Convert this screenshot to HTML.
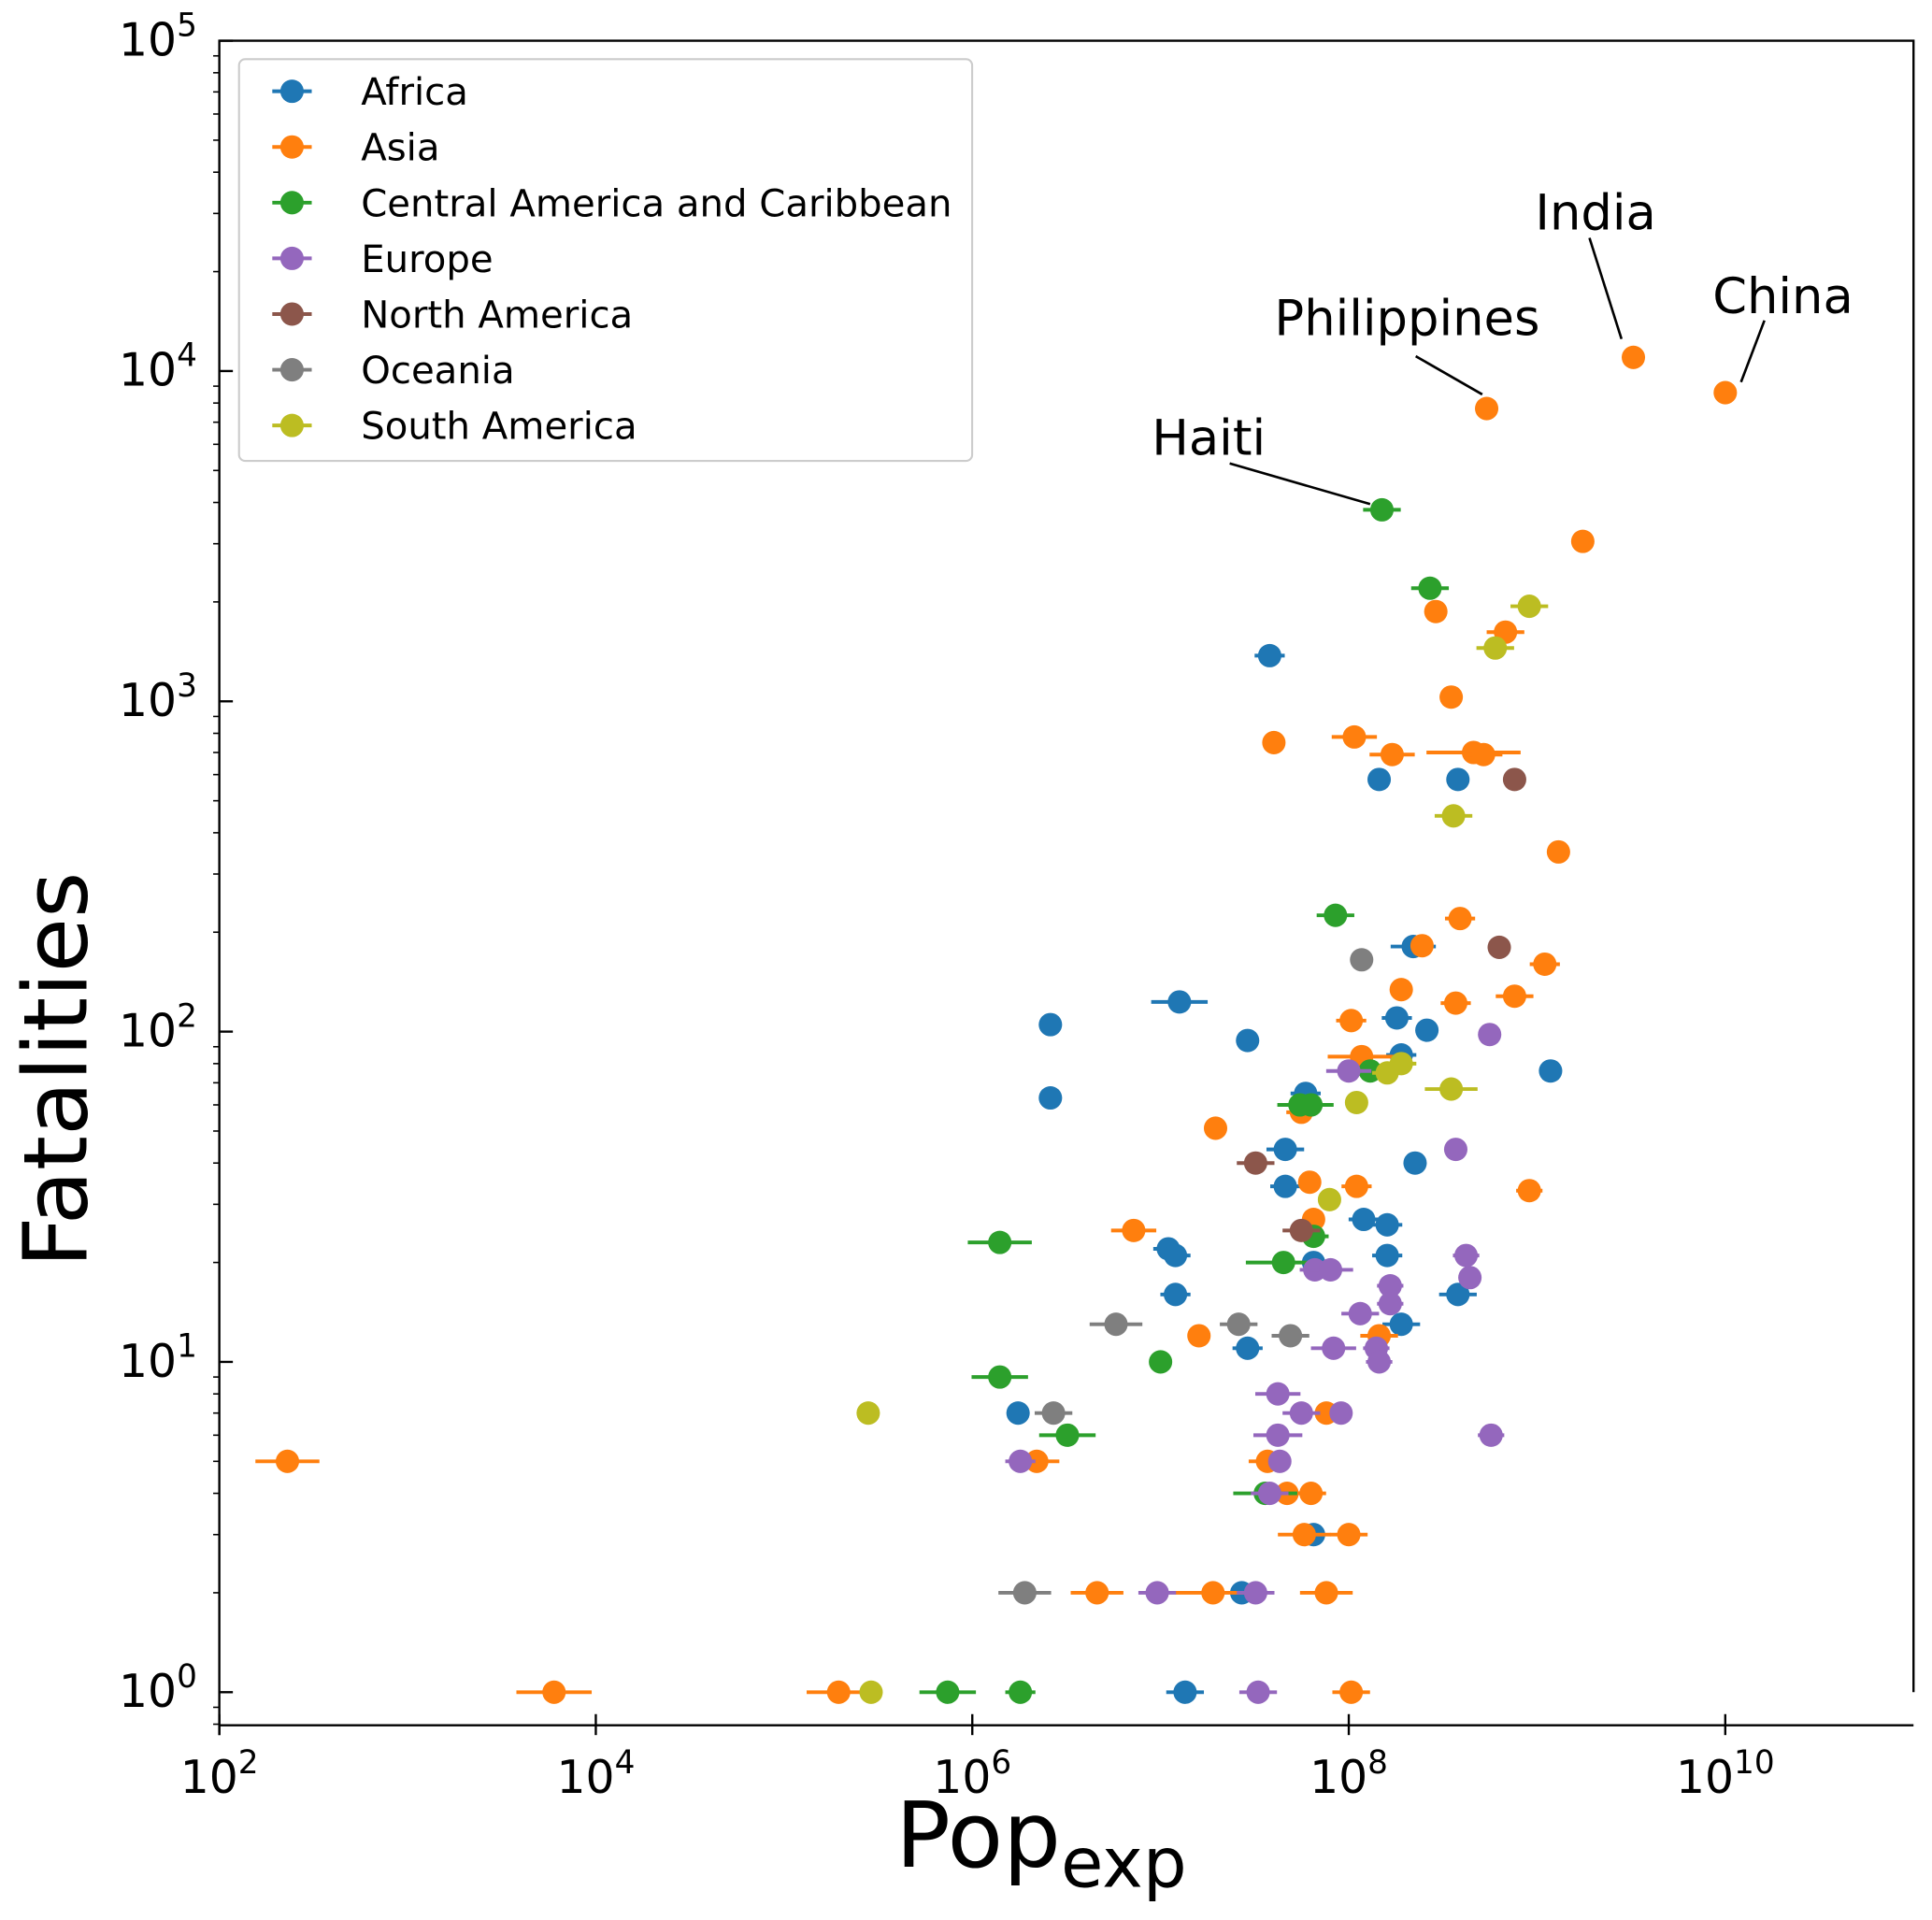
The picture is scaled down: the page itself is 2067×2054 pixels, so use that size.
<!DOCTYPE html>
<html><head><meta charset="utf-8"><style>
html,body{margin:0;padding:0;background:#fff}
svg{display:block;font-family:"DejaVu Sans","Liberation Sans",sans-serif}
</style></head><body>
<svg id="chart" width="2067" height="2054" viewBox="0 0 1568 1558" xmlns="http://www.w3.org/2000/svg">
<rect width="1568" height="1558" fill="#fff"/>
<g id="marks"></g>
<g id="axes"></g>
<g id="legend"></g>
<g id="annot"></g>
</svg>
<script>
const regions = ["Africa","Asia","Central America and Caribbean","Europe","North America","Oceania","South America"];
const colors = ["#1f77b4","#ff7f0e","#2ca02c","#9467bd","#8c564b","#7f7f7f","#bcbd22"];
// Points per region: [population exposed, fatalities, x-error half-width in decades]
const africa = [[3.8e7,1375,0.08],[1.45e8,580,0.05],[3.8e8,580,0.05],[2.2e8,181,0.12],[1.26e7,123,0.15],[2.6e6,105,0.05],[2.9e7,94,0.05],[1.8e8,110,0.08],[2.6e8,101,0.05],[1.9e8,85,0.08],[1.18e9,76,0.05],[2.6e6,63,0.05],[5.9e7,65,0.08],[4.6e7,44,0.1],[2.25e8,40,0.05],[4.6e7,34,0.08],[1.2e8,27,0.08],[1.6e8,26,0.08],[1.1e7,22,0.08],[1.2e7,21,0.08],[1.6e8,21,0.08],[1.2e7,16,0.08],[3.8e8,16,0.1],[1.9e8,13,0.1],[2.9e7,11,0.08],[6.5e7,20,0.05],[1.75e6,7,0.05],[6.5e7,3,0.05],[2.7e7,2,0.05],[1.35e7,1,0.1]];
const asia = [[3.25e9,11000,0.03],[1e10,8600,0.03],[5.4e8,7700,0.06],[1.75e9,3050,0.06],[2.9e8,1870,0.04],[6.8e8,1620,0.1],[3.5e8,1030,0.04],[4e7,750,0.06],[1.07e8,780,0.12],[1.7e8,690,0.12],[4.6e8,700,0.25],[5.2e8,690,0.1],[1.3e9,350,0.04],[3.9e8,220,0.08],[2.45e8,182,0.06],[1.1e9,160,0.08],[1.9e8,134,0.05],[7.6e8,128,0.1],[3.7e8,122,0.08],[1.03e8,108,0.08],[1.17e8,84,0.18],[1.96e7,51,0.04],[5.6e7,57,0.08],[6.2e7,35,0.05],[1.1e8,34,0.08],[9.1e8,33,0.07],[6.5e7,27,0.06],[7.2e6,25,0.12],[1.6e7,12,0.05],[1.45e8,12,0.1],[7.6e7,7,0.06],[2.2e6,5,0.12],[3.7e7,5,0.1],[4.7e7,4,0.1],[6.3e7,4,0.08],[5.8e7,3,0.14],[1e8,3,0.1],[4.6e6,2,0.14],[1.9e7,2,0.2],[7.6e7,2,0.14],[230,5,0.17],[6e3,1,0.2],[1.95e5,1,0.17],[1.03e8,1,0.1]];
const centralAmerica = [[1.5e8,3800,0.1],[2.7e8,2200,0.1],[8.5e7,225,0.1],[1.3e8,76,0.08],[5.5e7,60,0.12],[6.3e7,60,0.12],[6.5e7,24,0.08],[4.5e7,20,0.2],[1.4e6,23,0.17],[1.4e6,9,0.15],[1e7,10,0.06],[3.2e6,6,0.15],[3.6e7,4,0.17],[7.4e5,1,0.15],[1.8e6,1,0.08]];
const europe = [[5.6e8,98,0.05],[1.0e8,76,0.12],[3.7e8,44,0.05],[4.2e8,21,0.07],[4.4e8,18,0.05],[6.6e7,19,0.08],[8e7,19,0.12],[1.66e8,17,0.07],[1.66e8,15,0.07],[1.15e8,14,0.1],[8.3e7,11,0.12],[1.4e8,11,0.07],[1.45e8,10,0.07],[4.2e7,8,0.12],[5.6e7,7,0.1],[9.1e7,7,0.06],[4.2e7,6,0.13],[5.7e8,6,0.07],[4.3e7,5,0.06],[1.8e6,5,0.08],[3.8e7,4,0.1],[9.6e6,2,0.1],[3.2e7,2,0.1],[3.3e7,1,0.1]];
const northAmerica = [[7.6e8,580,0.05],[6.3e8,180,0.06],[3.2e7,40,0.1],[5.6e7,25,0.1]];
const oceania = [[1.17e8,165,0.05],[5.8e6,13,0.14],[2.6e7,13,0.1],[4.9e7,12,0.1],[2.7e6,7,0.1],[1.9e6,2,0.14]];
const southAmerica = [[9.1e8,1940,0.1],[6e8,1450,0.1],[3.6e8,450,0.1],[1.9e8,80,0.08],[1.6e8,75,0.08],[3.5e8,67,0.14],[1.1e8,61,0.06],[7.9e7,31,0.06],[2.8e5,7,0.05],[2.9e5,1,0.05]];
const series = [africa,asia,centralAmerica,europe,northAmerica,oceania,southAmerica];
const xTickExps = [2,4,6,8,10];
const yTickExps = [0,1,2,3,4,5];
const annotations = [["India",3.25e9,11000,1295,172,1290,193,1316,275],["China",1e10,8600,1447,240,1432,260,1413,310],["Philippines",5.4e8,7700,1142,258,1149,289,1203,320],["Haiti",1.5e8,3800,981,355,998,376,1112,409]];

const NS="http://www.w3.org/2000/svg";
const L=178,R=1553,T=33,B=1400;
const X0=2,X1=11,Y0=-0.1,Y1=5;
const xs=v=>L+(Math.log10(v)-X0)/(X1-X0)*(R-L);
const ys=v=>B-(Math.log10(v)-Y0)/(Y1-Y0)*(B-T);
function mk(tag,attrs,parent){const e=document.createElementNS(NS,tag);for(const k in attrs)e.setAttribute(k,attrs[k]);parent.appendChild(e);return e;}
const marks=document.getElementById('marks'),axes=document.getElementById('axes'),leg=document.getElementById('legend'),ann=document.getElementById('annot');

series.forEach((pts,si)=>{
  const g=mk('g',{},marks);
  
  
  pts.forEach(p=>{
    const cx=xs(p[0]),cy=ys(p[1]);
    const e=p[2];
    const ln=mk('line',{x1:xs(p[0]/Math.pow(10,e)),x2:xs(p[0]*Math.pow(10,e)),y1:cy,y2:cy,stroke:colors[si],'stroke-width':3},g);
    
    
    const c=mk('circle',{cx:cx,cy:cy,r:9.5,fill:colors[si]},g);
    
    
  });
});

// spines
const yRight=ys(1);
const sp=mk('path',{d:`M${L},${B} L${L},${T} L${R},${T} L${R},${yRight} M${L},${B} L${R},${B}`,fill:'none',stroke:'#000','stroke-width':1.8},axes);


// x ticks (major only, crossing axis)
xTickExps.forEach(e=>{const x=xs(Math.pow(10,e));
  mk('line',{x1:x,x2:x,y1:B-9,y2:B+8,stroke:'#000','stroke-width':1.8},axes);});
mk('line',{x1:L,x2:L,y1:B,y2:B+8,stroke:'#000','stroke-width':1.8},axes);
xTickExps.forEach(e=>{const t=mk('text',{x:xs(Math.pow(10,e)),y:1455,'text-anchor':'middle','font-size':37},axes);
  
  t.innerHTML='10<tspan dy="-16" font-size="26">'+e+'</tspan>';});
// y ticks: major inward, minor outward
for(let d=-1;d<Y1;d++){for(let m=1;m<10;m++){const v=m*Math.pow(10,d);const lv=Math.log10(v);if(lv<Y0||lv>Y1)continue;const y=ys(v);const maj=m===1;
  if(maj) mk('line',{x1:L,x2:L+11,y1:y,y2:y,stroke:'#000','stroke-width':1.8},axes);
  else mk('line',{x1:L,x2:L-5,y1:y,y2:y,stroke:'#000','stroke-width':1.2},axes);}}
mk('line',{x1:L,x2:L+11,y1:ys(1e5),y2:ys(1e5),stroke:'#000','stroke-width':1.8},axes);
yTickExps.forEach(e=>{const t=mk('text',{x:160,y:ys(Math.pow(10,e))+12,'text-anchor':'end','font-size':37},axes);
  
  t.innerHTML='10<tspan dy="-16" font-size="26">'+e+'</tspan>';});
const xt=mk('text',{x:845,y:1515,'text-anchor':'middle','font-size':74},axes);

xt.innerHTML='Pop<tspan dy="16" font-size="56">exp</tspan>';
const yt=mk('text',{x:0,y:0,'text-anchor':'middle','font-size':72,transform:'translate(70,868) rotate(-90)'},axes);

yt.textContent='Fatalities';

// legend
const lb=mk('rect',{x:194,y:48,width:595,height:326,rx:5,fill:'#fff',stroke:'#ccc','stroke-width':1.6},leg);

regions.forEach((r,i)=>{const y=74+i*45.2;const g=mk('g',{},leg);
  
  mk('line',{x1:221,x2:253,y1:y,y2:y,stroke:colors[i],'stroke-width':3},g);
  mk('circle',{cx:237,cy:y,r:9.5,fill:colors[i]},g);
  const t=mk('text',{x:293,y:y+11,'font-size':30.5},g);t.textContent=r;});

// annotations
annotations.forEach(a=>{const g=mk('g',{},ann);
  
  const t=mk('text',{x:a[3],y:a[4]+14,'text-anchor':'middle','font-size':40},g);t.textContent=a[0];
  mk('line',{x1:a[5],y1:a[6],x2:a[7],y2:a[8],stroke:'#000','stroke-width':2},g);});
</script>
</body></html>
